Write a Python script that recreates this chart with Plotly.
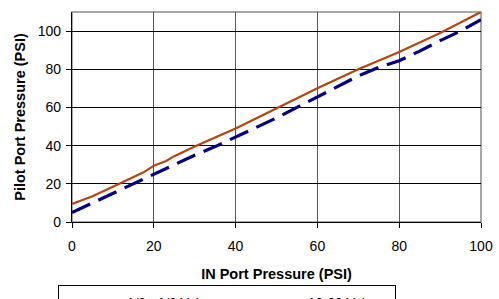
import plotly.graph_objects as go

# IN port pressure (x) and pilot port pressure (y) for each valve series
valves_x = [0, 5, 10, 15, 17.5, 20, 23, 25, 30, 40, 50, 60, 70, 80, 90, 100]
valves_y = [9.5, 13.5, 18.5, 23.5, 26, 29.5, 32, 34.5, 39.5, 49, 59.5, 70, 80, 89, 99, 110]

v1032_x = [0, 5, 10, 15, 20, 25, 30, 35, 40, 45, 50, 55, 60, 65, 70, 75, 80, 85, 90, 95, 100]
v1032_y = [5, 10, 15, 20, 25, 30, 35, 39.5, 44.5, 49.5, 54.5, 60, 65.5, 71, 76.5, 81, 84.5, 89.5, 95, 100, 106]

x_ticks = [0, 20, 40, 60, 80, 100]
y_ticks = [0, 20, 40, 60, 80, 100]

FONT = "Liberation Sans, Arial, sans-serif"

fig = go.Figure()
fig.add_trace(go.Scatter(
    x=valves_x, y=valves_y, mode="lines", name="1/8 - 1/2 Valves",
    line=dict(color="#B5450F", width=2.2), legendwidth=108,
))
fig.add_trace(go.Scatter(
    x=v1032_x, y=v1032_y, mode="lines", name="10-32 Valve",
    line=dict(color="#000080", width=3.2, dash="20px,9px"), legendwidth=82,
))

fig.update_layout(
    width=499, height=299,
    margin=dict(l=72, r=18, t=12, b=77, autoexpand=False),
    paper_bgcolor="white", plot_bgcolor="white",
    font=dict(family=FONT, color="black"),
    showlegend=True,
    legend=dict(
        orientation="h", xref="container", yref="container",
        x=58 / 499, xanchor="left", y=(299 - 285) / 299, yanchor="top",
        bordercolor="black", borderwidth=1, bgcolor="white",
        font=dict(size=13.5, family=FONT), itemwidth=58,
    ),
    shapes=[dict(type="rect", xref="paper", yref="paper", x0=0, x1=1, y0=0, y1=1,
                 line=dict(color="#8a8a8a", width=1.5), layer="below")],
)

fig.update_xaxes(
    range=[0, 100], tickvals=x_ticks, ticks="outside", ticklen=5, tickcolor="black",
    showline=True, linecolor="black", linewidth=1.2, automargin=False,
    showgrid=True, gridcolor="#555555", gridwidth=1, zeroline=False,
    tickfont=dict(size=14, family=FONT), ticklabelstandoff=6,
    title=dict(text="<b>IN Port Pressure (PSI)</b>", font=dict(size=14.5, family=FONT), standoff=15),
)
fig.update_yaxes(
    range=[0, 110], tickvals=y_ticks, ticks="outside", ticklen=5, tickcolor="black",
    showline=True, linecolor="black", linewidth=1.2, automargin=False,
    showgrid=True, gridcolor="black", gridwidth=1, zeroline=False,
    tickfont=dict(size=14, family=FONT), ticklabelstandoff=2,
    title=dict(text="<b>Pilot Port Pressure (PSI)</b>", font=dict(size=14.5, family=FONT), standoff=8),
)

fig.write_html(
    "out.html",
    config={"displayModeBar": False},
    post_script="document.body.style.margin='0';document.body.style.overflow='hidden';",
)
